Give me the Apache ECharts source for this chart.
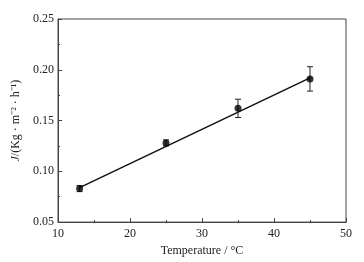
<!DOCTYPE html>
<html>
<head>
<meta charset="utf-8">
<script src="https://cdn.jsdelivr.net/npm/echarts@6/dist/echarts.min.js"></script>
<style>
  html, body { margin: 0; padding: 0; background: #fff; }
  #chart { width: 364px; height: 262px; }
</style>
</head>
<body>
<div id="chart"></div>
<script>
// measured points
const TEMPS = [13, 25, 35, 45];
const FLUX = [0.083, 0.128, 0.162, 0.191];
const ERRS = [0.003, 0.003, 0.009, 0.012];
// fitted line end points
const FIT_X = [13, 45];
const FIT_Y = [0.084, 0.192];

const FONT = 'Liberation Serif';
const INK = '#222';

let chart = echarts.init(document.getElementById('chart'), null, { renderer: 'canvas' });

const points = TEMPS.map((t, i) => [t, FLUX[i]]);
const bars = TEMPS.map((t, i) => [t, FLUX[i] - ERRS[i], FLUX[i] + ERRS[i]]);
const fit = FIT_X.map((x, i) => [x, FIT_Y[i]]);

const axisCommon = {
  axisLine: { show: true, lineStyle: { color: '#444', width: 1 } },
  axisTick: { show: true, inside: true, length: 4, lineStyle: { color: '#444' } },
  minorTick: { show: true, splitNumber: 2, length: 2, lineStyle: { color: '#444' } },
  splitLine: { show: false },
  axisLabel: { color: INK, fontFamily: FONT, fontSize: 12 }
};

chart.setOption({
  animation: false,
  grid: { left: 58, right: 18, top: 19, bottom: 36, show: true, borderColor: '#444', borderWidth: 1 },
  xAxis: {
    type: 'value', min: 10, max: 50, interval: 10,
    name: 'Temperature / °C', nameLocation: 'middle', nameGap: 18,
    nameTextStyle: { color: INK, fontFamily: FONT, fontSize: 12 },
    ...axisCommon,
    axisLabel: { ...axisCommon.axisLabel, margin: 6 }
  },
  yAxis: {
    type: 'value', min: 0.05, max: 0.25, interval: 0.05,
    name: '{i|J}/(Kg · m⁻² · h⁻¹)', nameLocation: 'middle', nameGap: 30,
    nameTextStyle: {
      color: INK, fontFamily: FONT, fontSize: 12,
      rich: { i: { fontStyle: 'italic', fontFamily: FONT, fontSize: 12, color: INK } }
    },
    ...axisCommon,
    axisLabel: { ...axisCommon.axisLabel, margin: 4, formatter: v => v.toFixed(2) }
  },
  series: [
    {
      type: 'line', data: fit, symbol: 'none',
      lineStyle: { color: '#111', width: 1.5 }, z: 2
    },
    {
      type: 'custom', data: bars, z: 3,
      renderItem: (params, api) => {
        const x = api.value(0);
        const lo = api.coord([x, api.value(1)]);
        const hi = api.coord([x, api.value(2)]);
        const w = 3;
        const style = { stroke: '#222', lineWidth: 1 };
        return {
          type: 'group',
          children: [
            { type: 'line', shape: { x1: lo[0], y1: lo[1], x2: hi[0], y2: hi[1] }, style },
            { type: 'line', shape: { x1: lo[0] - w, y1: lo[1], x2: lo[0] + w, y2: lo[1] }, style },
            { type: 'line', shape: { x1: hi[0] - w, y1: hi[1], x2: hi[0] + w, y2: hi[1] }, style }
          ]
        };
      }
    },
    {
      type: 'scatter', data: points, symbol: 'circle', symbolSize: 7,
      itemStyle: { color: '#000' }, z: 4
    }
  ]
});
</script>
</body>
</html>
